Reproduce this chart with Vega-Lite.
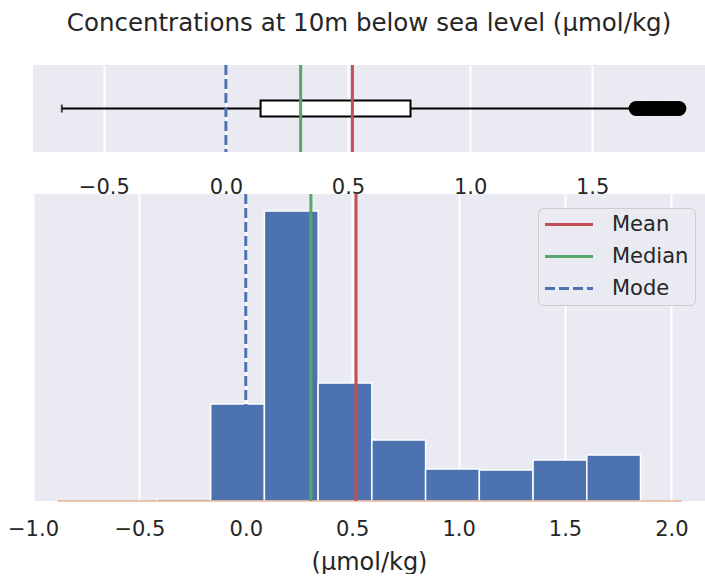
{
  "$schema": "https://vega.github.io/schema/vega-lite/v6.json",
  "padding": {"left": 7, "top": 11, "right": 0, "bottom": 0},
  "background": "white",
  "title": {
    "text": "Concentrations at 10m below sea level (µmol/kg)",
    "fontSize": 24.5,
    "font": "DejaVu Sans",
    "fontWeight": "normal",
    "color": "#262626",
    "offset": 27,
    "anchor": "middle",
    "frame": "group"
  },
  "datasets": {
    "stats": [
      {"stat": "Mean", "value": 0.518},
      {"stat": "Median", "value": 0.306},
      {"stat": "Mode", "value": 0.0}
    ],
    "box": [
      {"var": "c", "min": -0.672, "q1": 0.142, "median": 0.306, "q3": 0.756, "max": 1.66}
    ],
    "outliers": [
      {"var": "c", "value": 1.68},
      {"var": "c", "value": 1.6925},
      {"var": "c", "value": 1.705},
      {"var": "c", "value": 1.7175},
      {"var": "c", "value": 1.73},
      {"var": "c", "value": 1.7425},
      {"var": "c", "value": 1.755},
      {"var": "c", "value": 1.7675},
      {"var": "c", "value": 1.78},
      {"var": "c", "value": 1.7925},
      {"var": "c", "value": 1.805},
      {"var": "c", "value": 1.8175},
      {"var": "c", "value": 1.83},
      {"var": "c", "value": 1.8425},
      {"var": "c", "value": 1.855}
    ],
    "hist": [
      {"bin_start": -0.4175, "bin_end": -0.165, "count": 2},
      {"bin_start": -0.165, "bin_end": 0.0875, "count": 97},
      {"bin_start": 0.0875, "bin_end": 0.34, "count": 290},
      {"bin_start": 0.34, "bin_end": 0.5925, "count": 118},
      {"bin_start": 0.5925, "bin_end": 0.845, "count": 61},
      {"bin_start": 0.845, "bin_end": 1.0975, "count": 32},
      {"bin_start": 1.0975, "bin_end": 1.35, "count": 31},
      {"bin_start": 1.35, "bin_end": 1.6025, "count": 41},
      {"bin_start": 1.6025, "bin_end": 1.855, "count": 46}
    ],
    "kde": [
      {"start": -0.883, "end": 2.048, "density": 0}
    ]
  },
  "bounds": "flush",
  "spacing": 42,
  "resolve": {"scale": {"x": "independent", "y": "independent", "color": "independent", "strokeDash": "independent"}},
  "vconcat": [
    {
      "width": 672,
      "height": 87,
      "layer": [
        {
          "data": {"name": "box"},
          "mark": {"type": "rule", "color": "black", "strokeWidth": 2},
          "encoding": {
            "x": {
              "field": "min", "type": "quantitative",
              "scale": {"domain": [-0.79, 1.962], "nice": false, "zero": false},
              "axis": {
                "values": [-0.5, 0, 0.5, 1, 1.5], "format": ".1f",
                "labelFontSize": 21, "labelPadding": 24, "ticks": false, "domain": false,
                "grid": true, "gridColor": "white", "gridWidth": 2, "title": null, "labelFlush": false
              }
            },
            "x2": {"field": "max"},
            "y": {"field": "var", "type": "nominal", "axis": null, "scale": {"type": "band"}}
          }
        },
        {
          "data": {"name": "box"},
          "mark": {"type": "tick", "orient": "vertical", "color": "black", "thickness": 2, "size": 8},
          "encoding": {
            "x": {"field": "min", "type": "quantitative"},
            "y": {"field": "var", "type": "nominal"}
          }
        },
        {
          "data": {"name": "box"},
          "mark": {"type": "bar", "fill": "white", "stroke": "black", "strokeWidth": 2, "size": 16},
          "encoding": {
            "x": {"field": "q1", "type": "quantitative"},
            "x2": {"field": "q3"},
            "y": {"field": "var", "type": "nominal"}
          }
        },
        {
          "data": {"name": "box"},
          "mark": {"type": "tick", "orient": "vertical", "color": "#DD8452", "thickness": 2, "size": 15},
          "encoding": {
            "x": {"field": "median", "type": "quantitative"},
            "y": {"field": "var", "type": "nominal"}
          }
        },
        {
          "data": {"name": "outliers"},
          "mark": {"type": "point", "filled": true, "color": "black", "opacity": 1, "size": 225},
          "encoding": {
            "x": {"field": "value", "type": "quantitative"},
            "y": {"field": "var", "type": "nominal"}
          }
        },
        {
          "data": {"name": "stats"},
          "mark": {"type": "rule", "strokeWidth": 3},
          "encoding": {
            "x": {"field": "value", "type": "quantitative"},
            "color": {
              "field": "stat", "type": "nominal",
              "scale": {"domain": ["Mean", "Median", "Mode"], "range": ["#C44E52", "#55A868", "#4C72B0"]},
              "legend": null
            },
            "strokeDash": {
              "field": "stat", "type": "nominal",
              "scale": {"domain": ["Mean", "Median", "Mode"], "range": [[1, 0], [1, 0], [10, 4]]},
              "legend": null
            }
          }
        }
      ]
    },
    {
      "width": 672,
      "height": 307,
      "layer": [
        {
          "data": {"name": "hist"},
          "mark": {"type": "rect", "color": "#4C72B0", "stroke": "white", "strokeWidth": 1.5},
          "encoding": {
            "x": {
              "field": "bin_start", "type": "quantitative",
              "scale": {"domain": [-1.0, 2.158], "nice": false, "zero": false},
              "axis": {
                "values": [-1, -0.5, 0, 0.5, 1, 1.5, 2], "format": ".1f",
                "labelFontSize": 21, "labelPadding": 17, "ticks": false, "domain": false,
                "grid": true, "gridColor": "white", "gridWidth": 2,
                "title": "(µmol/kg)", "titleFontSize": 24, "titlePadding": 11, "titleFontWeight": "normal",
                "labelFlush": false
              }
            },
            "x2": {"field": "bin_end"},
            "y": {"field": "count", "type": "quantitative", "scale": {"domain": [0, 307], "nice": false}, "axis": null},
            "y2": {"datum": 0}
          }
        },
        {
          "data": {"name": "kde"},
          "mark": {"type": "rule", "color": "#DD8452", "opacity": 0.45, "strokeWidth": 2},
          "encoding": {
            "x": {"field": "start", "type": "quantitative"},
            "x2": {"field": "end"},
            "y": {"field": "density", "type": "quantitative"}
          }
        },
        {
          "data": {"name": "stats"},
          "mark": {"type": "rule", "strokeWidth": 3},
          "encoding": {
            "x": {"field": "value", "type": "quantitative"},
            "color": {
              "field": "stat", "type": "nominal",
              "scale": {"domain": ["Mean", "Median", "Mode"], "range": ["#C44E52", "#55A868", "#4C72B0"]},
              "legend": {
                "orient": "none", "legendX": 505, "legendY": 14, "title": null,
                "fillColor": "#EAEAF2", "strokeColor": "#CCCCCC", "cornerRadius": 5, "padding": 6,
                "labelFontSize": 21, "labelColor": "#262626", "labelFont": "DejaVu Sans",
                "labelExpr": "datum.label + ' '",
                "symbolType": "M-1.056,0H4.278", "symbolStrokeWidth": 3, "symbolSize": 324,
                "labelOffset": 47, "rowPadding": 10
              }
            },
            "strokeDash": {
              "field": "stat", "type": "nominal",
              "scale": {"domain": ["Mean", "Median", "Mode"], "range": [[1, 0], [1, 0], [10, 4]]},
              "legend": {
                "orient": "none", "legendX": 505, "legendY": 14, "title": null,
                "fillColor": "#EAEAF2", "strokeColor": "#CCCCCC", "cornerRadius": 5, "padding": 6,
                "labelFontSize": 21, "labelColor": "#262626", "labelFont": "DejaVu Sans",
                "labelExpr": "datum.label + ' '",
                "symbolType": "M-1.056,0H4.278", "symbolStrokeWidth": 3, "symbolSize": 324,
                "labelOffset": 47, "rowPadding": 10
              }
            }
          }
        }
      ]
    }
  ],
  "config": {
    "font": "DejaVu Sans",
    "view": {"fill": "#EAEAF2", "stroke": null},
    "axis": {"labelColor": "#262626", "titleColor": "#262626", "labelFont": "DejaVu Sans", "titleFont": "DejaVu Sans"}
  }
}
